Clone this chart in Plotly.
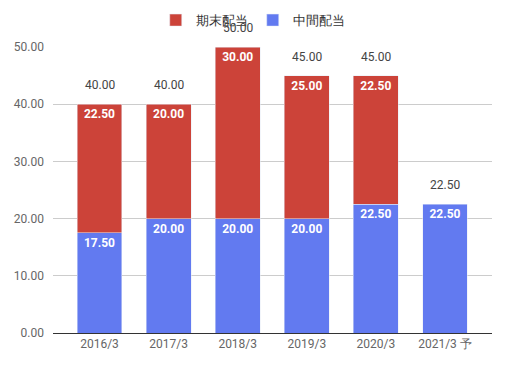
import plotly.graph_objects as go

categories = ["2016/3", "2017/3", "2018/3", "2019/3", "2020/3", "2021/3 予"]
interim = [17.5, 20.0, 20.0, 20.0, 22.5, 22.5]
year_end = [22.5, 20.0, 30.0, 25.0, 22.5, None]
totals = [40.0, 40.0, 50.0, 45.0, 45.0, 22.5]
y_ticks = [0, 10, 20, 30, 40, 50]

RED = "#cc4339"
BLUE = "#627af0"
FONT = "Roboto, Arial, sans-serif"

fig = go.Figure()
fig.add_trace(go.Bar(
    x=categories, y=interim, name="中間配当", marker_color=BLUE,
    text=[f"{v:.2f}" for v in interim], textposition="inside",
    insidetextanchor="end", textangle=0,
    textfont=dict(color="white", size=12, family=FONT, weight="bold"),
    constraintext="none", width=0.65,
))
fig.add_trace(go.Bar(
    x=categories, y=year_end, name="期末配当", marker_color=RED,
    text=[f"{v:.2f}" if v is not None else "" for v in year_end],
    textposition="inside", insidetextanchor="end", textangle=0,
    textfont=dict(color="white", size=12, family=FONT, weight="bold"),
    constraintext="none", width=0.65,
))

for c, t in zip(categories, totals):
    fig.add_annotation(x=c, y=t, text=f"{t:.2f}", showarrow=False,
                       yanchor="bottom", yshift=10,
                       font=dict(size=12, color="#444444", family=FONT))

fig.update_layout(
    barmode="stack",
    width=507, height=367,
    margin=dict(l=53, r=15, t=47, b=34, autoexpand=False),
    paper_bgcolor="white", plot_bgcolor="white",
    font=dict(family=FONT, size=12, color="#444444"),
    legend=dict(orientation="h", x=0.455, xanchor="center", y=0.986, yref="container",
                yanchor="top", traceorder="reversed",
                font=dict(size=13, color="#333333"), itemwidth=30),
    bargap=0.35,
)
fig.update_xaxes(
    range=[-0.673, 5.68], showline=True, linecolor="#333333", linewidth=1,
    ticks="", tickfont=dict(size=12, color="#666666"), showgrid=False,
    automargin=False,
)
fig.update_yaxes(
    range=[0, 50], tickvals=y_ticks, ticktext=[f"{v:.2f}" for v in y_ticks],
    showgrid=True, gridcolor="#cccccc", gridwidth=1, zeroline=False,
    tickfont=dict(size=12, color="#666666"), ticklabelstandoff=8,
    automargin=False,
)

fig.write_html("out.html", config={"displayModeBar": False},
               post_script="document.body.style.margin='0';")
